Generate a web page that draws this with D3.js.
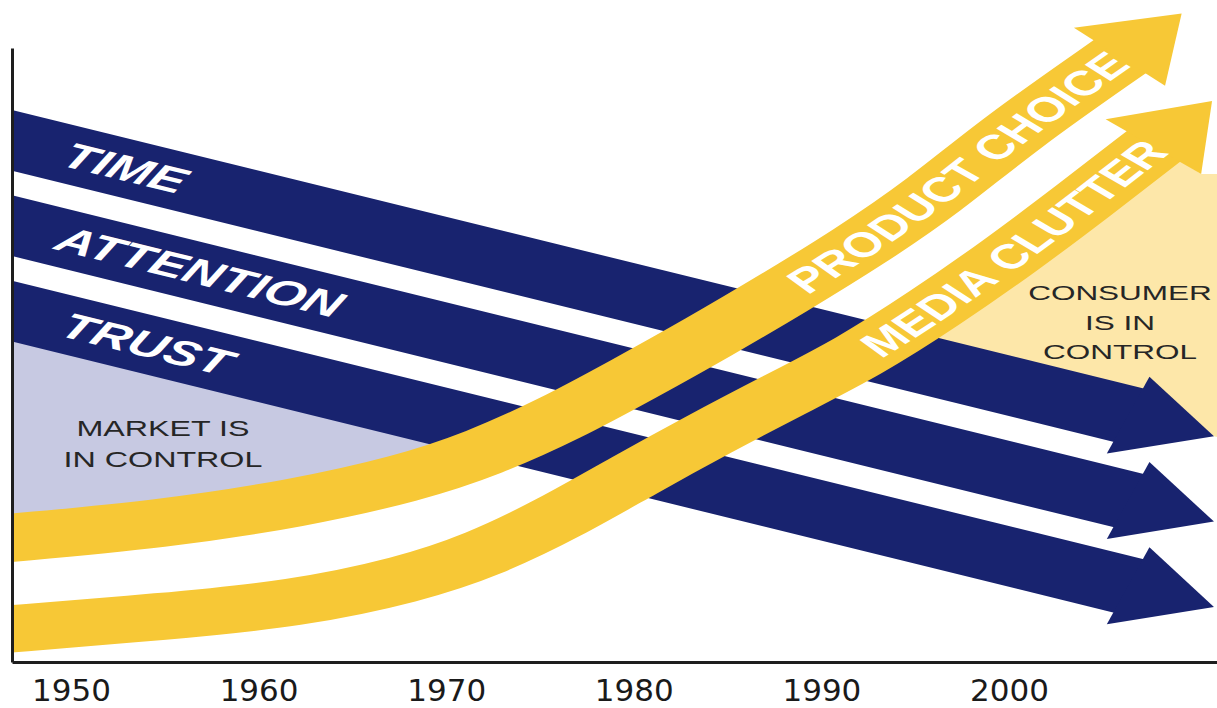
<!DOCTYPE html>
<html>
<head>
<meta charset="utf-8">
<script src="https://cdn.jsdelivr.net/npm/d3@7"></script>
<style>
  html, body { margin: 0; padding: 0; background: #fff; }
  svg { display: block; }
</style>
</head>
<body>
<svg id="chart" width="1217" height="708"></svg>
<script>
// x axis labels
var tick_years = [1950, 1960, 1970, 1980, 1990, 2000];

// falling (navy) arrows: value at start and at the arrow head
var navy_labels = ["TIME", "ATTENTION", "TRUST"];
var navy_years = [1946, 2006.5];
var navy_values = [
    [85.6, 40.1],
    [71.7, 26.2],
    [57.8, 12.3]
];

// rising (yellow) arrows
var choice_years  = [1946, 1955, 1962, 1968, 1972, 1976, 1980, 1984, 1988, 1992, 1996, 2000, 2006];
var choice_values = [20.0, 22.5, 25.8, 29.9, 34.0, 39.5, 46.1, 52.9, 60.1, 67.6, 75.9, 86.0, 98.8];
var clutter_years  = [1946, 1955, 1962, 1968, 1972, 1976, 1980, 1984, 1988, 1992, 1996, 2000, 2004, 2007.8];
var clutter_values = [5.2, 7.4, 9.5, 13.4, 17.5, 23.4, 30.4, 37.1, 43.5, 49.7, 57.5, 66.0, 75.2, 84.2];

var W = 1217, H = 708;
var SX = 1.5;            // the artwork is stretched sideways
var axis_x = 12, axis_y = 662, axis_top = 48;

var navy = "#18236f", yellow = "#f7c836", lavender = "#c7c9e2", cream = "#fde7a9", ink = "#262626";

var svg = d3.select("#chart");
var defs = svg.append("defs");

// pixel scale for the axis, and the same scale un-stretched for the artwork
var x_px = d3.scaleLinear().domain([1950, 2000]).range([71, 1009]);
var x_axis_scale = x_px.copy().domain([x_px.invert(axis_x), x_px.invert(W)]).range([axis_x, W]);
var x = x_px.copy().range(x_px.range().map(function (v) { return v / SX; }));
var y = d3.scaleLinear().domain([0, 100]).range([axis_y, axis_top]);

var line = d3.line()
    .x(function (d) { return x(d[0]); })
    .y(function (d) { return y(d[1]); })
    .curve(d3.curveBasis);

function zip(a, b) { return a.map(function (v, i) { return [v, b[i]]; }); }
function unit(dx, dy) { var l = Math.sqrt(dx * dx + dy * dy); return [dx / l, dy / l]; }

// arrow head: [barb, tip, barb], base sits a little back on the shaft
function head_points(end, dir, len, hw) {
    var nx = -dir[1], ny = dir[0];
    var bx = end[0] - dir[0] * 2, by = end[1] - dir[1] * 2;
    return [[bx + nx * hw, by + ny * hw],
            [bx + dir[0] * len, by + dir[1] * len],
            [bx - nx * hw, by - ny * hw]];
}

function sample_path(node, n) {
    var L = node.getTotalLength(), out = [];
    for (var i = 0; i <= n; i++) {
        var p = node.getPointAtLength(L * i / n);
        out.push([p.x, p.y]);
    }
    return out;
}

function length_at_x(node, xu) {
    var lo = 0, hi = node.getTotalLength();
    for (var it = 0; it < 40; it++) {
        var mid = (lo + hi) / 2;
        if (node.getPointAtLength(mid).x < xu) lo = mid; else hi = mid;
    }
    return lo;
}

defs.append("clipPath").attr("id", "plot-clip")
    .append("rect")
    .attr("x", axis_x / SX + 0.5).attr("y", 0)
    .attr("width", (W - axis_x) / SX).attr("height", axis_y - 1);

var art = svg.append("g").attr("transform", "scale(" + SX + ",1)");
var plot = art.append("g").attr("clip-path", "url(#plot-clip)");
var back_layer = plot.append("g");
var navy_layer = plot.append("g");
var yellow_layer = plot.append("g");
var label_layer = art.append("g");

// ---- navy arrows ----
var navy_series = navy_labels.map(function (name, i) {
    return { name: name, pts: zip(navy_years, navy_values[i]) };
});
var navy_label_at = [1949.7, 1949.35, 1949.6];

function navy_y(s, xu) {
    var x0 = x(s.pts[0][0]), y0 = y(s.pts[0][1]), x1 = x(s.pts[1][0]), y1 = y(s.pts[1][1]);
    return y0 + (y1 - y0) * (xu - x0) / (x1 - x0);
}

var navy_groups = navy_layer.selectAll(".fall-arrow")
    .data(navy_series)
    .enter()
    .append("g")
    .attr("class", "fall-arrow");

navy_groups.append("path")
    .attr("d", function (d) { return line(d.pts); })
    .attr("fill", "none")
    .attr("stroke", navy)
    .attr("stroke-width", 57);

navy_groups.append("polygon")
    .attr("fill", navy)
    .attr("points", function (d) {
        var p0 = [x(d.pts[0][0]), y(d.pts[0][1])], p1 = [x(d.pts[1][0]), y(d.pts[1][1])];
        return head_points(p1, unit(p1[0] - p0[0], p1[1] - p0[1]), 61, 41).join(" ");
    });

navy_groups.append("text")
    .attr("transform", function (d, i) {
        var p0 = [x(d.pts[0][0]), y(d.pts[0][1])], p1 = [x(d.pts[1][0]), y(d.pts[1][1])];
        var xu = x(navy_label_at[i]);
        var ang = Math.atan2(p1[1] - p0[1], p1[0] - p0[0]) * 180 / Math.PI;
        return "translate(" + xu + "," + navy_y(d, xu) + ") rotate(" + ang + ")";
    })
    .attr("dominant-baseline", "central")
    .style("font-family", "'Liberation Sans', Arial, sans-serif")
    .style("font-size", "35.5px")
    .style("font-weight", "bold")
    .style("font-style", "italic")
    .style("fill", "#fff")
    .text(function (d) { return d.name; });

// ---- yellow arrows ----
var yellow_series = [
    { name: "PRODUCT CHOICE", pts: zip(choice_years, choice_values), width: 48, text_x: 530 },
    { name: "MEDIA CLUTTER", pts: zip(clutter_years, clutter_values), width: 47, text_x: 579 }
];

yellow_series.forEach(function (s, i) {
    var g = yellow_layer.append("g").attr("class", "rise-arrow");
    var path = g.append("path")
        .attr("d", line(s.pts))
        .attr("fill", "none")
        .attr("stroke", yellow)
        .attr("stroke-width", s.width);
    var node = path.node();
    var L = node.getTotalLength();
    var pe = node.getPointAtLength(L), pp = node.getPointAtLength(L - 4);
    var head = head_points([pe.x, pe.y], unit(pe.x - pp.x, pe.y - pp.y), 60, 42);
    g.append("polygon").attr("points", head.join(" ")).attr("fill", yellow);
    s.node = node;
    s.head = head;

    // path for the label, running on into the head
    var lp = defs.append("path")
        .attr("id", "rise-path-" + i)
        .attr("d", line(s.pts) + "L" + head[1][0] + "," + head[1][1]);
    label_layer.append("text")
        .attr("dominant-baseline", "central")
        .style("font-family", "'Liberation Sans', Arial, sans-serif")
        .style("font-size", "34.5px")
        .style("font-weight", "bold")
        .style("fill", "#fff")
        .append("textPath")
        .attr("href", "#rise-path-" + i)
        .attr("startOffset", length_at_x(lp.node(), s.text_x))
        .text(s.name);
});

// ---- shaded zones ----
var pc_pts = sample_path(yellow_series[0].node, 400);
var trust = navy_series[2];
var k = pc_pts.findIndex(function (p) { return p[1] <= navy_y(trust, p[0]); });
var market_poly = [[pc_pts[0][0], navy_y(trust, pc_pts[0][0])], pc_pts[k]]
    .concat(pc_pts.slice(0, k).reverse());
back_layer.append("polygon").attr("points", market_poly.join(" ")).attr("fill", lavender);

var mc_pts = sample_path(yellow_series[1].node, 400);
var time = navy_series[0];
var j = mc_pts.findIndex(function (p) { return p[1] <= navy_y(time, p[0]); });
var xr = W / SX;
var barb = yellow_series[1].head[0];
var consumer_poly = mc_pts.slice(j).concat([barb, [xr, barb[1]], [xr, navy_y(time, xr)]]);
back_layer.append("polygon").attr("points", consumer_poly.join(" ")).attr("fill", cream);

// zone captions
function caption(lines, cx, baselines, size) {
    label_layer.selectAll(null)
        .data(lines)
        .enter()
        .append("text")
        .attr("x", cx)
        .attr("y", function (d, i) { return baselines[i]; })
        .attr("text-anchor", "middle")
        .style("font-family", "'Liberation Sans', Arial, sans-serif")
        .style("font-size", size + "px")
        .style("fill", ink)
        .text(function (d) { return d; });
}
caption(["MARKET IS", "IN CONTROL"], 163 / SX, [436, 467], 21.5);
caption(["CONSUMER", "IS IN", "CONTROL"], 1120 / SX, [300, 330, 359], 21);

// ---- axes ----
var x_axis = svg.append("g")
    .attr("transform", "translate(0," + axis_y + ")")
    .call(d3.axisBottom(x_axis_scale)
        .tickValues(tick_years)
        .tickFormat(d3.format("d"))
        .tickSize(0)
        .tickPadding(17));
x_axis.select(".domain").attr("stroke", "#1e1e1e").attr("stroke-width", 3);
x_axis.selectAll("text")
    .style("font-family", "'DejaVu Sans', sans-serif")
    .style("font-size", "31px")
    .style("fill", "#1a1a1a");

var y_axis = svg.append("g")
    .attr("transform", "translate(" + axis_x + ",0)")
    .call(d3.axisLeft(y).tickValues([]).tickSizeOuter(0));
y_axis.select(".domain").attr("stroke", "#1e1e1e").attr("stroke-width", 3);
</script>
</body>
</html>
